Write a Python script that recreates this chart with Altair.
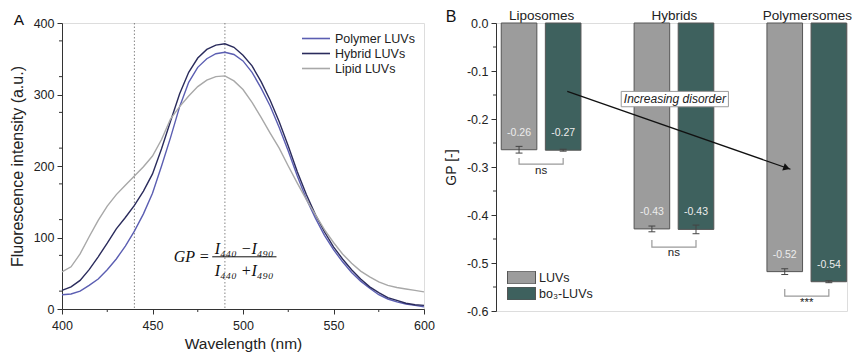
import math
import altair as alt
import pandas as pd

FONT = "Liberation Sans"
SERIF = "Liberation Serif"

# ---------------- Panel A data ----------------
wavelength = list(range(400, 601, 5))
polymer_luvs = [20, 21, 25, 33, 42, 55, 70, 88, 109, 133, 162, 200, 240, 283, 317, 338, 350, 357, 359, 356,
                347, 331, 309, 284, 254, 221, 186, 154, 127, 103, 83, 66, 51, 39, 29, 20, 14, 10, 7, 5, 3]
hybrid_luvs = [26, 31, 40, 55, 73, 92, 112, 128, 145, 165, 189, 224, 263, 301, 331, 351, 363, 369, 371, 366,
               355, 340, 318, 292, 262, 228, 192, 160, 132, 108, 87, 70, 55, 42, 31, 23, 16, 12, 8, 6, 5]
lipid_luvs = [52, 59, 77, 101, 124, 144, 160, 173, 186, 199, 214, 237, 266, 283, 298, 311, 320, 325, 326, 319,
              307, 289, 268, 246, 225, 200, 176, 153, 132, 111, 93, 77, 64, 53, 45, 38, 33, 30, 28, 26, 24]
series_names = ["Polymer LUVs", "Hybrid LUVs", "Lipid LUVs"]
series_colors = ["#5b5eb2", "#2a2b5c", "#a8a8a8"]
marker_wavelengths = [440, 490]
x_ticks_A = [400, 450, 500, 550, 600]
x_minor_A = [425, 475, 525, 575]
y_ticks_A = list(range(0, 401, 50))
y_minor_A = list(range(25, 400, 50))

# GP formula annotation (data coordinates of panel A)
formula_lhs = {"wavelength": 481.5, "intensity": 73, "text": "GP ="}
formula_num = {"wavelength": 500.6, "intensity": 84.5, "text": "I₄₄₀ −I₄₉₀"}
formula_den = {"wavelength": 500.6, "intensity": 53.5, "text": "I₄₄₀ +I₄₉₀"}
formula_bar = {"w1": 483.0, "w2": 518.5, "intensity": 73}

# ---------------- Panel B data ----------------
categories = ["Liposomes", "Hybrids", "Polymersomes"]
bar_series = ["LUVs", "bo₃-LUVs"]
bar_colors = ["#9c9c9c", "#3e615e"]
luvs_gp = [-0.264, -0.429, -0.518]
bo3_gp = [-0.265, -0.430, -0.539]
luvs_err = [0.007, 0.006, 0.006]
bo3_err = [0.002, 0.009, 0.002]
luvs_text = ["-0.26", "-0.43", "-0.52"]
bo3_text = ["-0.27", "-0.43", "-0.54"]
sig_text = ["ns", "ns", "***"]
bracket_top = [-0.281, -0.452, -0.554]
bracket_bottom = [-0.294, -0.467, -0.569]
sig_y = [-0.309, -0.480, -0.583]
y_ticks_B = [0.0, -0.1, -0.2, -0.3, -0.4, -0.5, -0.6]
y_minor_B = [-0.05, -0.15, -0.25, -0.35, -0.45, -0.55]
arrow_start = (0.197, -0.1425)
arrow_end = (1.877, -0.3047)
label_box = {"x": 0.603, "x2": 1.41, "y": -0.1425, "y2": -0.1745}
label_text = {"x": 1.007, "y": -0.1585, "text": "Increasing disorder"}

# layout constants (group index units)
BAR_OFFSET = 0.166
BAR_HALF = 0.134
CAP_HALF = 0.026
XDOM_B = [-0.3395, 2.3026]

WA, HA = 362, 286
WB, HB = 351, 288

# ================= Panel A =================
rows = []
for name, vals in zip(series_names, [polymer_luvs, hybrid_luvs, lipid_luvs]):
    for w, v in zip(wavelength, vals):
        rows.append({"wavelength": w, "intensity": v, "sample": name})
dfA = pd.DataFrame(rows)

axis_common = dict(labelFont=FONT, titleFont=FONT, labelColor="#222", titleColor="#222",
                   domainColor="#333", tickColor="#333", grid=False, titleFontWeight="normal")

xA = alt.X("wavelength:Q", scale=alt.Scale(domain=[400, 600], nice=False, zero=False),
           axis=alt.Axis(values=x_ticks_A, title="Wavelength (nm)", labelFontSize=12.5, titleFontSize=15.5,
                         tickSize=5, labelPadding=5, titlePadding=5, labelFlush=False, **axis_common))
yA = alt.Y("intensity:Q", scale=alt.Scale(domain=[0, 400], nice=False),
           axis=alt.Axis(values=y_ticks_A, title="Fluorescence intensity (a.u.)", labelFontSize=12.5,
                         titleFontSize=16, tickSize=5, labelPadding=3, titlePadding=8, **axis_common))

lines = alt.Chart(dfA).mark_line(strokeWidth=1.4).encode(
    x=xA, y=yA,
    color=alt.Color("sample:N", scale=alt.Scale(domain=series_names, range=series_colors),
                    legend=alt.Legend(title=None, orient="top-right", symbolType="stroke", symbolSize=784,
                                      symbolStrokeWidth=1.6, labelFont=FONT, labelFontSize=12.5,
                                      labelColor="#222", labelOffset=4, rowPadding=2, padding=0,
                                      clipHeight=13, offset=9)),
)

markers = alt.Chart(pd.DataFrame({"wavelength": marker_wavelengths})).mark_rule(
    color="#666", strokeWidth=0.8, strokeDash=[1.5, 2]).encode(x="wavelength:Q")

minor_xA = alt.Chart(pd.DataFrame({"wavelength": x_minor_A})).mark_rule(color="#333").encode(
    x="wavelength:Q", y=alt.value(HA), y2=alt.value(HA + 3))
minor_yA = alt.Chart(pd.DataFrame({"intensity": y_minor_A})).mark_rule(color="#333").encode(
    y="intensity:Q", x=alt.value(0), x2=alt.value(-3))

f_lhs = alt.Chart(pd.DataFrame([formula_lhs])).mark_text(
    font=SERIF, fontSize=16, fontStyle="italic", align="right", baseline="middle", color="#111").encode(
    x="wavelength:Q", y="intensity:Q", text="text:N")
f_frac = alt.Chart(pd.DataFrame([formula_num, formula_den])).mark_text(
    font=SERIF, fontSize=16, fontStyle="italic", align="center", baseline="middle", color="#111").encode(
    x="wavelength:Q", y="intensity:Q", text="text:N")
f_bar = alt.Chart(pd.DataFrame([formula_bar])).mark_rule(color="#111", strokeWidth=1).encode(
    x="w1:Q", x2="w2:Q", y="intensity:Q")

letterA = alt.Chart(pd.DataFrame({"t": ["A"]})).mark_text(
    font=FONT, fontSize=15.5, color="#111", align="center", baseline="middle").encode(
    text="t:N", x=alt.value(-43), y=alt.value(-3))

panelA = alt.layer(markers, lines, minor_xA, minor_yA, f_bar, f_lhs, f_frac, letterA).properties(
    width=WA, height=HA)

# ================= Panel B =================
bar_rows, cap_rows, brk_rows, grp_rows = [], [], [], []
for i, cat in enumerate(categories):
    for s, (name, gp, err, txt) in enumerate(zip(bar_series, [luvs_gp[i], bo3_gp[i]],
                                                  [luvs_err[i], bo3_err[i]], [luvs_text[i], bo3_text[i]])):
        pos = i + (-BAR_OFFSET if s == 0 else BAR_OFFSET)
        bar_rows.append({"cat": cat, "series": name, "pos": pos, "x1": pos - BAR_HALF, "x2": pos + BAR_HALF,
                         "gp": gp, "lo": gp - err, "hi": gp + err, "txt": txt})
        for yv in (gp - err, gp + err):
            cap_rows.append({"c1": pos - CAP_HALF, "c2": pos + CAP_HALF, "yv": yv})
    xl, xr = i - BAR_OFFSET, i + BAR_OFFSET
    for k, (bx, by) in enumerate([(xl, bracket_top[i]), (xl, bracket_bottom[i]),
                                  (xr, bracket_bottom[i]), (xr, bracket_top[i])]):
        brk_rows.append({"grp": cat, "k": k, "bx": bx, "by": by})
    grp_rows.append({"gx": i, "sy": sig_y[i], "sig": sig_text[i]})
dfB = pd.DataFrame(bar_rows)
dfCap = pd.DataFrame(cap_rows)
dfBrk = pd.DataFrame(brk_rows)
dfGrp = pd.DataFrame(grp_rows)

label_expr = "datum.value == 0 ? '" + categories[0] + "' : datum.value == 1 ? '" + categories[1] + \
             "' : datum.value == 2 ? '" + categories[2] + "' : ''"
xB = alt.X("x1:Q", scale=alt.Scale(domain=XDOM_B, nice=False, zero=False),
           axis=alt.Axis(orient="top", values=[0, 1, 2], labelExpr=label_expr, title=None, ticks=False,
                         domain=False, labelFont=FONT, labelFontSize=13.5, labelColor="#222",
                         labelPadding=0.5, grid=False, labelFlush=False))
yB = alt.Y("gp:Q", scale=alt.Scale(domain=[-0.6, 0.0], nice=False, zero=False),
           axis=alt.Axis(values=y_ticks_B, title="GP [-]", labelFontSize=12.5, titleFontSize=14,
                         labelExpr="replace(format(datum.value, '.1f'), '\u2212', '-')",
                         tickSize=5, labelPadding=3, titlePadding=8, **axis_common))

bars = alt.Chart(dfB).mark_bar(stroke="#555", strokeWidth=1).encode(
    x=xB, x2="x2:Q", y=yB, y2=alt.datum(0),
    color=alt.Color("series:N", scale=alt.Scale(domain=bar_series, range=bar_colors),
                    legend=alt.Legend(title=None, orient="none", legendX=11, legendY=HB - 40,
                                      symbolType="M-1,-0.46H1V0.46H-1Z",
                                      symbolSize=784, symbolStrokeColor="#555", symbolStrokeWidth=1,
                                      labelFont=FONT, labelFontSize=12.5, labelColor="#222", labelOffset=3,
                                      rowPadding=3, clipHeight=13, padding=0, symbolOpacity=1)),
)
err_rules = alt.Chart(dfB).mark_rule(color="#444", strokeWidth=1).encode(
    x="pos:Q", y="lo:Q", y2="hi:Q")
caps = alt.Chart(dfCap).mark_rule(color="#444", strokeWidth=1).encode(
    x="c1:Q", x2="c2:Q", y="yv:Q")
val_labels = alt.Chart(dfB).mark_text(font=FONT, fontSize=10.5, color="#ececec", dy=-17,
                                      baseline="middle").encode(x="pos:Q", y="gp:Q", text="txt:N")
brackets = alt.Chart(dfBrk).mark_line(color="#9a9a9a", strokeWidth=1.2).encode(
    x="bx:Q", y="by:Q", detail="grp:N", order="k:Q")
sig = alt.Chart(dfGrp).mark_text(font=FONT, fontSize=11.5, color="#222", baseline="middle").encode(
    x="gx:Q", y="sy:Q", text="sig:N")

xspan = XDOM_B[1] - XDOM_B[0]
dxp = (arrow_end[0] - arrow_start[0]) * WB / xspan
dyp = -(arrow_end[1] - arrow_start[1]) * HB / 0.6
ang = math.degrees(math.atan2(dyp, dxp))
arrow = alt.Chart(pd.DataFrame([{"ax": arrow_start[0], "ay": arrow_start[1],
                                 "bx": arrow_end[0], "by": arrow_end[1]}])).mark_rule(
    color="#111", strokeWidth=1.3).encode(x="ax:Q", y="ay:Q", x2="bx:Q", y2="by:Q")
back = 4.0
head_pt = {"hx": arrow_end[0] - back * math.cos(math.radians(ang)) * xspan / WB,
           "hy": arrow_end[1] + back * math.sin(math.radians(ang)) * 0.6 / HB}
head = alt.Chart(pd.DataFrame([head_pt])).mark_point(
    shape="triangle-right", filled=True, color="#111", size=60, angle=round(ang, 1), opacity=1).encode(
    x="hx:Q", y="hy:Q")
box = alt.Chart(pd.DataFrame([label_box])).mark_rect(fill="white", stroke="#9a9a9a", strokeWidth=1).encode(
    x="x:Q", x2="x2:Q", y="y:Q", y2="y2:Q")
box_text = alt.Chart(pd.DataFrame([label_text])).mark_text(
    font=FONT, fontSize=12, fontStyle="italic", color="#222", baseline="middle").encode(
    x="x:Q", y="y:Q", text="text:N")
minor_yB = alt.Chart(pd.DataFrame({"gp": y_minor_B})).mark_rule(color="#333").encode(
    y="gp:Q", x=alt.value(0), x2=alt.value(-3))
letterB = alt.Chart(pd.DataFrame({"t": ["B"]})).mark_text(
    font=FONT, fontSize=16, color="#111", align="center", baseline="middle").encode(
    text="t:N", x=alt.value(-45), y=alt.value(-6))

panelB = alt.layer(bars, err_rules, caps, val_labels, brackets, sig, arrow, head, box, box_text,
                   minor_yB, letterB).properties(width=WB, height=HB)

chart = alt.hconcat(panelA, panelB, spacing=8).resolve_scale(color="independent").properties(
    padding={"left": 0, "top": 0, "right": 0, "bottom": 1.5}
).configure_view(stroke="#333", strokeWidth=1.2).configure(background="white")

chart.save("out.html", embed_options={"renderer": "svg", "actions": False})
